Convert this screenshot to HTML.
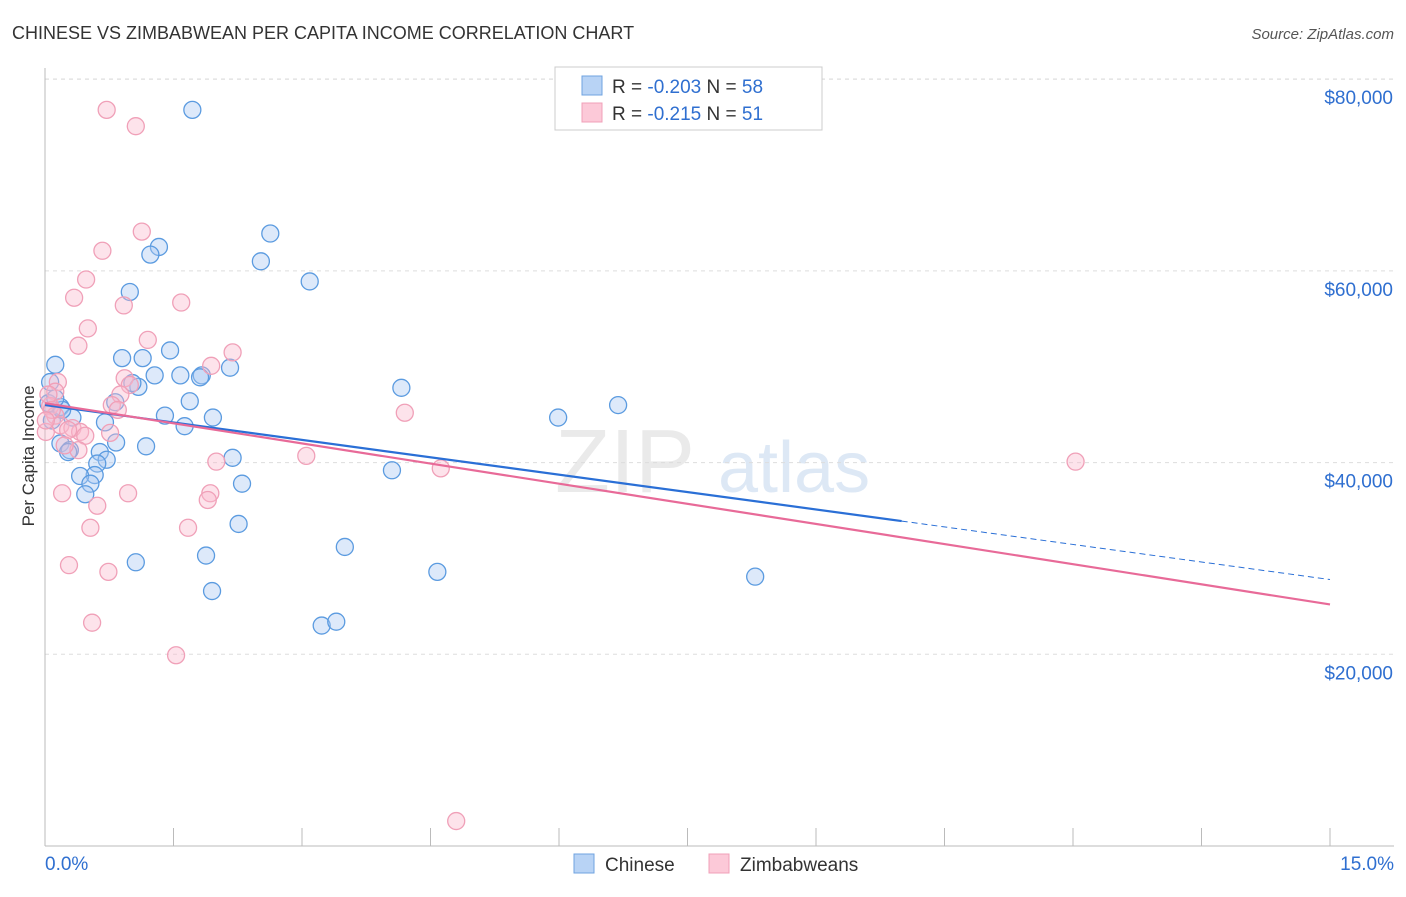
<!DOCTYPE html>
<html><head><meta charset="utf-8"><style>
body{margin:0;background:#fff;font-family:"Liberation Sans",sans-serif;}
svg text{font-family:"Liberation Sans",sans-serif;}
</style></head><body>
<svg id="c" width="1406" height="892" xmlns="http://www.w3.org/2000/svg">
<text x="12" y="39" font-size="18" fill="#333">CHINESE VS ZIMBABWEAN PER CAPITA INCOME CORRELATION CHART</text>
<text x="1394" y="39" font-size="15" fill="#555" font-style="italic" text-anchor="end">Source: ZipAtlas.com</text>
<text x="34" y="456" font-size="17" fill="#333" text-anchor="middle" transform="rotate(-90 34 456)">Per Capita Income</text>
<g><text x="555" y="492" font-size="90" fill="#ddd" font-family="Liberation Serif" opacity="0.6">ZIP</text><text x="718" y="492" font-size="72" fill="#c8daf0" opacity="0.6">atlas</text></g>
<g id="grid"></g>
<g id="axes"></g>
<g id="pts"></g>
<g id="trend"></g>
<g>
<rect x="555" y="67" width="267" height="63" fill="#fff" stroke="#ccc"/>
<rect x="582" y="76" width="20" height="19" fill="#b8d3f5" stroke="#6fa3e0"/>
<rect x="582" y="103" width="20" height="19" fill="#fcc9d8" stroke="#f0a0b8"/>
<text x="612" y="93" font-size="19" fill="#333">R = <tspan fill="#2f6fd0">-0.203</tspan>   N = <tspan fill="#2f6fd0">58</tspan></text>
<text x="612" y="120" font-size="19" fill="#333">R =  <tspan fill="#2f6fd0">-0.215</tspan>   N =  <tspan fill="#2f6fd0">51</tspan></text>
</g>
<g>
<rect x="574" y="854" width="20" height="19" fill="#b8d3f5" stroke="#6fa3e0"/>
<text x="605" y="871" font-size="19" fill="#333">Chinese</text>
<rect x="709" y="854" width="20" height="19" fill="#fcc9d8" stroke="#f0a0b8"/>
<text x="740" y="871" font-size="19" fill="#333">Zimbabweans</text>
</g>
</svg>
<script>
const yTicks=[20000,40000,60000,80000];
const yTickLabels=["$20,000","$40,000","$60,000","$80,000"];
const xTickLabels=["0.0%","15.0%"];
const chineseX=[1.72,2.63,1.33,1.23,2.52,3.09,0.99,0.12,0.90,1.14,1.46,2.16,1.58,1.28,1.83,1.09,1.02,4.16,0.06,0.18,0.82,1.69,1.81,1.40,1.96,5.99,6.69,0.70,0.32,1.63,0.18,0.29,0.83,1.18,0.64,0.72,2.19,0.27,0.61,0.58,0.41,0.53,0.47,2.30,4.05,2.26,3.50,1.88,1.06,4.58,8.29,1.95,3.23,3.40,0.08,0.04,0.20,0.12];
const chineseY=[76.8,63.9,62.5,61.7,61.0,58.9,57.8,50.2,50.9,50.9,51.7,49.9,49.1,49.1,49.1,47.9,48.3,47.8,48.4,45.8,46.3,46.4,48.9,44.9,44.7,44.7,46.0,44.2,44.7,43.8,42.0,41.3,42.1,41.7,41.1,40.3,40.5,41.1,39.9,38.7,38.6,37.8,36.7,37.8,39.2,33.6,31.2,30.3,29.6,28.6,28.1,26.6,23.0,23.4,44.4,46.2,45.5,46.7];
const zimX=[0.72,1.06,1.13,0.67,0.48,0.34,1.59,0.92,0.50,1.20,2.19,0.39,1.94,0.15,0.12,0.93,0.99,0.88,0.78,0.06,0.12,4.20,0.18,0.32,0.41,0.47,0.76,0.27,0.01,0.39,2.00,3.05,4.62,12.03,0.20,0.97,1.93,1.90,0.61,0.53,1.67,0.28,0.74,0.55,1.53,4.80,0.04,0.08,0.23,0.85,0.01];
const zimY=[76.8,75.1,64.1,62.1,59.1,57.2,56.7,56.4,54.0,52.8,51.5,52.2,50.1,48.4,47.4,48.8,48.1,47.1,46.0,45.9,44.9,45.2,43.9,43.6,43.2,42.8,43.1,43.4,43.2,41.3,40.1,40.7,39.4,40.1,36.8,36.8,36.8,36.1,35.5,33.2,33.2,29.3,28.6,23.3,19.9,2.6,47.1,45.5,41.8,45.5,44.4];
const blueTrend=[[0,46.0],[10.0,33.9],[15,27.8]];
const pinkTrend=[[0,46.2],[15,25.2]];
const NS="http://www.w3.org/2000/svg";
const X=v=>45+v*(1330-45)/15;
const Y=k=>846-k*1000*191.7/20000;
function mk(t,a,p){const e=document.createElementNS(NS,t);for(const k in a)e.setAttribute(k,a[k]);p.appendChild(e);return e;}
const grid=document.getElementById('grid'),axes=document.getElementById('axes'),pts=document.getElementById('pts'),tr=document.getElementById('trend');
yTicks.forEach((t,i)=>{const y=Y(t/1000);
const l=mk('line',{x1:45,x2:1394,y1:y,y2:y,stroke:'#ddd','stroke-dasharray':'4,4'},grid);


const tx=mk('text',{x:1393,y:y+25,'font-size':19,fill:'#2f6fd0','text-anchor':'end'},axes);tx.textContent=yTickLabels[i];

});
{const l=mk('line',{x1:45,x2:1394,y1:79,y2:79,stroke:'#ddd','stroke-dasharray':'4,4'},grid);}
mk('line',{x1:45,x2:45,y1:68,y2:846,stroke:'#bbb'},axes);
mk('line',{x1:45,x2:1394,y1:846,y2:846,stroke:'#bbb'},axes);
for(let i=0;i<=10;i++){const x=X(i*1.5);mk('line',{x1:x,x2:x,y1:828,y2:846,stroke:'#bbb'},axes);}
[[0,'start',45],[1,'end',1394]].forEach(([i,a,x])=>{const t=mk('text',{x:x,y:870,'font-size':19,fill:'#2f6fd0','text-anchor':a},axes);t.textContent=xTickLabels[i];

});
function dots(xs,ys,fill,stroke,name){xs.forEach((v,i)=>{const c=mk('circle',{cx:X(v),cy:Y(ys[i]),r:8.5,fill:fill,'fill-opacity':0.4,stroke:stroke,'stroke-width':1.3},pts);

});}
dots(chineseX,chineseY,'#a9c9f2','#5b9be0','chinese-point');
dots(zimX,zimY,'#fab9cc','#f0a0b8','zimbabwean-point');
let b=mk('line',{x1:X(blueTrend[0][0]),y1:Y(blueTrend[0][1]),x2:X(blueTrend[1][0]),y2:Y(blueTrend[1][1]),stroke:'#2a6fd6','stroke-width':2.2},tr);


let bd=mk('line',{x1:X(blueTrend[1][0]),y1:Y(blueTrend[1][1]),x2:X(blueTrend[2][0]),y2:Y(blueTrend[2][1]),stroke:'#2a6fd6','stroke-width':1,'stroke-dasharray':'6,4'},tr);


let p=mk('line',{x1:X(pinkTrend[0][0]),y1:Y(pinkTrend[0][1]),x2:X(pinkTrend[1][0]),y2:Y(pinkTrend[1][1]),stroke:'#e86a98','stroke-width':2.2},tr);


</script>
</body></html>
